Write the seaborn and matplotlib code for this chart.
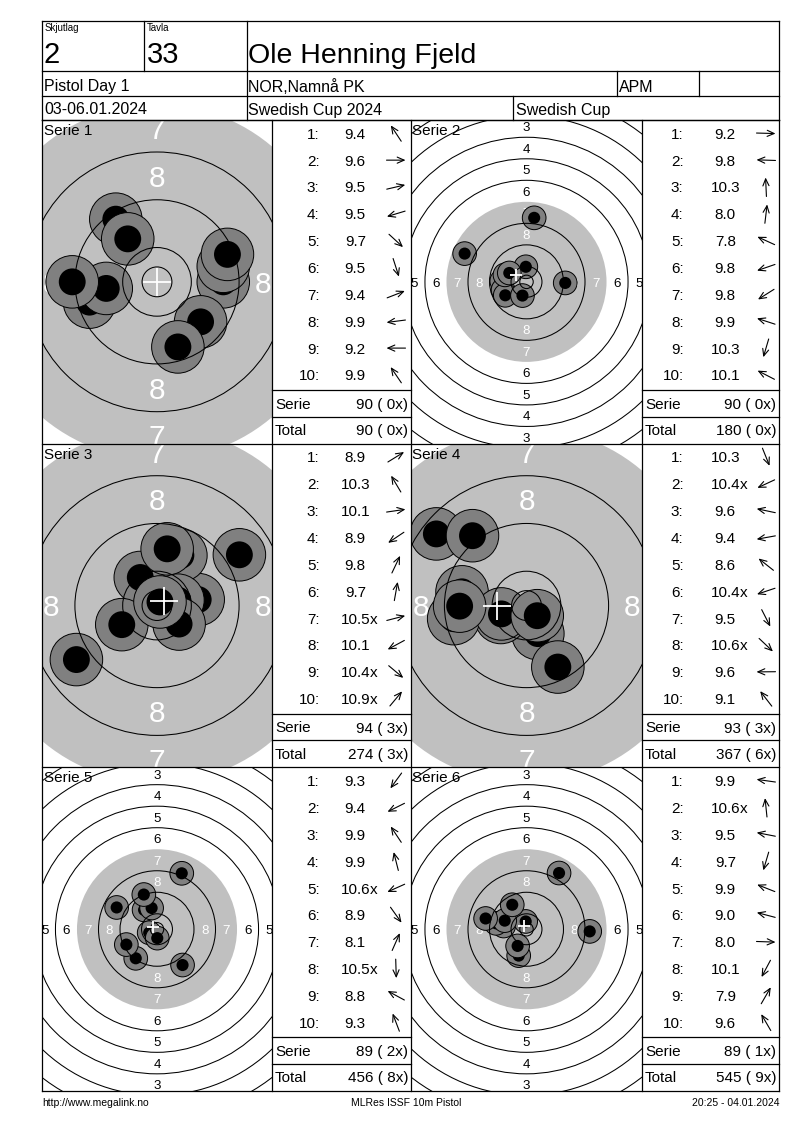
import math
import matplotlib
matplotlib.use("Agg")
import matplotlib.pyplot as plt
from matplotlib.patches import Circle
from matplotlib import font_manager
import seaborn as sns

# ---------------- data ----------------
relay_no = "2"
lane_no = "33"
shooter_name = "Ole Henning Fjeld"
event_name = "Pistol Day 1"
club_name = "NOR,Namnå PK"
class_name = "APM"
date_text = "03-06.01.2024"
competition_name = "Swedish Cup 2024"
cup_name = "Swedish Cup"
footer_left = "http://www.megalink.no"
footer_mid = "MLRes ISSF 10m Pistol"
footer_right = "20:25 - 04.01.2024"

series_labels = ["Serie 1", "Serie 2", "Serie 3", "Serie 4", "Serie 5", "Serie 6"]

scores_1 = [9.4, 9.6, 9.5, 9.5, 9.7, 9.5, 9.4, 9.9, 9.2, 9.9]
scores_2 = [9.2, 9.8, 10.3, 8.0, 7.8, 9.8, 9.8, 9.9, 10.3, 10.1]
scores_3 = [8.9, 10.3, 10.1, 8.9, 9.8, 9.7, 10.5, 10.1, 10.4, 10.9]
scores_4 = [10.3, 10.4, 9.6, 9.4, 8.6, 10.4, 9.5, 10.6, 9.6, 9.1]
scores_5 = [9.3, 9.4, 9.9, 9.9, 10.6, 8.9, 8.1, 10.5, 8.8, 9.3]
scores_6 = [9.9, 10.6, 9.5, 9.7, 9.9, 9.0, 8.0, 10.1, 7.9, 9.6]

# shot positions in mm (x to the right, y upwards, target centre = 0,0)
shot_x_1 = [-6.9, 11.1, 11.1, -11.3, 7.3, 3.5, 11.8, -8.5, -14.2, -4.9]
shot_y_1 = [10.5, 0.0, 2.6, -3.4, -6.7, -10.9, 4.6, -1.1, 0.0, 7.2]
shot_x_2 = [14.4, -9.2, -0.25, 2.85, -23.0, -8.7, -7.9, -8.0, -1.5, -6.4]
shot_y_2 = [-0.4, 0.3, 5.6, 23.8, 10.5, -3.0, -5.0, 2.6, -5.1, 3.3]
shot_x_3 = [13.8, -2.8, 6.9, -13.5, 4.0, 1.7, 3.5, -5.9, 3.7, 0.5]
shot_y_3 = [8.5, 4.7, 1.0, -9.05, 8.4, 9.5, 0.9, -3.2, -3.1, 0.6]
shot_x_4 = [1.9, -4.3, -10.8, -12.2, -15.1, -4.2, 5.25, 1.8, -11.2, -9.05]
shot_y_4 = [-4.7, -2.0, 2.3, -2.2, 12.0, -1.4, -10.3, -1.7, -0.1, 11.7]
shot_x_5 = [-7.9, -11.4, -4.8, -2.0, -2.9, 9.5, 9.2, 0.1, -15.0, -4.9]
shot_y_5 = [-10.8, -5.7, 7.2, 7.9, -1.3, -13.3, 20.8, -3.3, 8.1, 12.9]
shot_x_6 = [-8.5, -0.3, -11.3, -2.9, -8.1, -15.2, 23.5, -3.3, 12.1, -5.3]
shot_y_6 = [1.2, 2.9, 2.2, -9.8, 3.2, 4.0, -0.8, -6.2, 20.9, 9.1]

# mean point of impact cross (mm)
mpi_x = [0.0, -4.0, 1.1, -5.0, -1.4, -0.8]
mpi_y = [0.0, 2.5, 0.7, -0.1, 0.7, 1.05]

# ISSF 10m air pistol target geometry (mm radii of rings 1..10) and inner ten
ring_values = [1, 2, 3, 4, 5, 6, 7, 8, 9, 10]
ring_radius_mm = [77.75, 69.75, 61.75, 53.75, 45.75, 37.75, 29.75, 21.75, 13.75, 5.75]
inner_ten_mm = 2.5
pellet_radius_mm = 2.25

all_scores = [scores_1, scores_2, scores_3, scores_4, scores_5, scores_6]
all_x = [shot_x_1, shot_x_2, shot_x_3, shot_x_4, shot_x_5, shot_x_6]
all_y = [shot_y_1, shot_y_2, shot_y_3, shot_y_4, shot_y_5, shot_y_6]

# ---------------- style / layout ----------------
sns.set_theme(style="white")
names = {f.name for f in font_manager.fontManager.ttflist}
BASE = "Liberation Sans" if "Liberation Sans" in names else "DejaVu Sans"
plt.rcParams["font.family"] = [BASE, "DejaVu Sans"]

W, H = 800, 1130
LEFT, RIGHT, TOP = 42, 779, 21
PANEL_TOP, PANEL_H = 120.0, 323.7
COLS = [42, 272, 411, 642, 779]
IDX_OFF = [47.5, 41.5]
CLOSEUP = [True, False, True, True, False, False]
SCALE_IN, SCALE_OUT = 5.97, 2.69  # px per mm
TARGET_GRAY = "#c0c0c0"
SHOT_GRAY = "#808080"
LW = 0.9

fig = plt.figure(figsize=(W / 100, H / 100), dpi=100)
fig.patch.set_facecolor("white")
page = fig.add_axes([0, 0, 1, 1], zorder=3)
page.set_xlim(0, W)
page.set_ylim(H, 0)
page.axis("off")
page.patch.set_visible(False)


def line(x0, y0, x1, y1):
    page.plot([x0, x1], [y0, y1], color="black", lw=LW, solid_capstyle="projecting")


def txt(x, y, s, size, ha="left", **kw):
    page.text(x, y, s, fontsize=size, ha=ha, va="baseline", color="black", **kw)


# ---------------- header ----------------
for yy in (TOP, 71, 96, PANEL_TOP):
    line(LEFT, yy, RIGHT, yy)
line(LEFT, TOP, LEFT, PANEL_TOP)
line(RIGHT, TOP, RIGHT, PANEL_TOP)
line(144, TOP, 144, 71)
line(246.5, TOP, 246.5, PANEL_TOP)
line(617, 71, 617, 96)
line(699, 71, 699, 96)
line(513, 96, 513, PANEL_TOP)

txt(44.5, 31, "Skjutlag", 7)
txt(146.5, 31, "Tavla", 7)
txt(43.5, 63.3, relay_no, 21)
txt(146.5, 63.3, lane_no, 21)
txt(248.5, 63.3, shooter_name, 20.5)
txt(44.5, 91.5, event_name, 11.5)
txt(248.5, 91.5, club_name, 11.5)
txt(619, 91.5, class_name, 11.5)
txt(44.5, 114.5, date_text, 11.5)
txt(248.5, 114.5, competition_name, 11.5)
txt(516.5, 114.5, cup_name, 11.5)

# ---------------- panels ----------------
for r in range(4):
    line(LEFT, PANEL_TOP + r * PANEL_H, RIGHT, PANEL_TOP + r * PANEL_H)
for cx in COLS:
    line(cx, PANEL_TOP, cx, PANEL_TOP + 3 * PANEL_H)

running_total, running_x = 0, 0
FS = 11
FS_PX = FS / 0.72
for k in range(6):
    row, col = divmod(k, 2)
    T = PANEL_TOP + row * PANEL_H
    B = T + PANEL_H
    L, R = COLS[2 * col], COLS[2 * col + 1]
    tL, tR = COLS[2 * col + 1], COLS[2 * col + 2]
    s = SCALE_IN if CLOSEUP[k] else SCALE_OUT
    xs, ys, sc = all_x[k], all_y[k], all_scores[k]

    ax = fig.add_axes([L / W, 1 - B / H, (R - L) / W, (B - T) / H], zorder=1)
    hw, hh = (R - L) / 2 / s, (B - T) / 2 / s
    ax.set_facecolor("white")
    ax.add_patch(Circle((0, 0), ring_radius_mm[6], facecolor=TARGET_GRAY,
                        edgecolor="none", zorder=1))
    fsz = 3.6 * s
    for n, Rr in zip(ring_values, ring_radius_mm):
        if n > 8:
            continue
        rr = Rr - 4.0
        col_t = "white" if n >= 7 else "black"
        for tx, ty in ((0, rr), (0, -rr), (rr, 0), (-rr, 0)):
            if abs(tx) > hw + 0.5 or abs(ty) > hh + 0.5:
                continue  # label lies outside the visible part of the target
            t = ax.text(tx, ty - 1.79, str(n), fontsize=fsz, color=col_t, ha="center",
                        va="baseline", clip_on=True, zorder=2)
            t.set_clip_box(ax.bbox)
    ax.text(L + 1.5, T + 15, series_labels[k], transform=page.transData, fontsize=FS,
            ha="left", va="baseline", color="black", zorder=2.5)
    for i, (x, y) in enumerate(zip(xs, ys)):
        ax.add_patch(Circle((x, y), 4.4, facecolor=SHOT_GRAY, edgecolor="black",
                            lw=0.7, zorder=3 + 0.02 * i))
        ax.add_patch(Circle((x, y), pellet_radius_mm, facecolor="black",
                            edgecolor="none", zorder=3.01 + 0.02 * i))
    for n, Rr in zip(ring_values, ring_radius_mm):
        if n == 7:
            continue
        ax.add_patch(Circle((0, 0), Rr, fill=False, edgecolor="black", lw=0.75, zorder=5))
    ax.add_patch(Circle((0, 0), inner_ten_mm, fill=False, edgecolor="black", lw=0.75, zorder=5))
    msize = (4.8 * s * 0.72) ** 2
    sns.scatterplot(x=[mpi_x[k]], y=[mpi_y[k]], marker="+", s=msize, color="white",
                    linewidth=1.3, ax=ax, zorder=6, legend=False)
    ax.set_xlim(-hw, hw)
    ax.set_ylim(-hh, hh)
    ax.set_axis_off()

    # score table
    for i, v in enumerate(sc):
        yc = T + 13.3 + i * 26.85
        yb = yc + 0.36 * FS_PX
        txt(tL + IDX_OFF[col], yb, f"{i + 1}:", FS, ha="right")
        txt(tL + 83.3, yb, f"{v:.1f}", FS, ha="center")
        if round(v * 10) >= 104:
            txt(tL + 83.3 + 14.3, yb, "x", FS, ha="left")
        ang = math.atan2(ys[i], xs[i])
        acx, half = tL + 124, 9.5
        x0, y0 = acx - half * math.cos(ang), yc + half * math.sin(ang)
        x1, y1 = acx + half * math.cos(ang), yc - half * math.sin(ang)
        page.annotate("", xy=(x1, y1), xytext=(x0, y0),
                      arrowprops=dict(arrowstyle="->,head_length=0.5,head_width=0.22",
                                      lw=0.8, color="black", shrinkA=0, shrinkB=0,
                                      mutation_scale=10))
    serie_sum = sum(int(round(v * 10)) // 10 for v in sc)
    serie_x = sum(1 for v in sc if round(v * 10) >= 104)
    running_total += serie_sum
    running_x += serie_x
    line(tL, T + 270, tR, T + 270)
    line(tL, T + 296.5, tR, T + 296.5)
    yb1 = T + 283.3 + 0.36 * FS_PX
    yb2 = T + 309.5 + 0.36 * FS_PX
    txt(tL + 3, yb1, "Serie", FS)
    txt(tR - 3, yb1, f"{serie_sum} ({serie_x:2d}x)", FS, ha="right")
    txt(tL + 3, yb2, "Total", FS)
    txt(tR - 3, yb2, f"{running_total} ({running_x:2d}x)", FS, ha="right")

# ---------------- footer ----------------
txt(42, 1106, footer_left, 7.5)
txt(406, 1106, footer_mid, 7.5, ha="center")
txt(779, 1106, footer_right, 7.5, ha="right")

fig.savefig("out.png", dpi=100, facecolor="white")
